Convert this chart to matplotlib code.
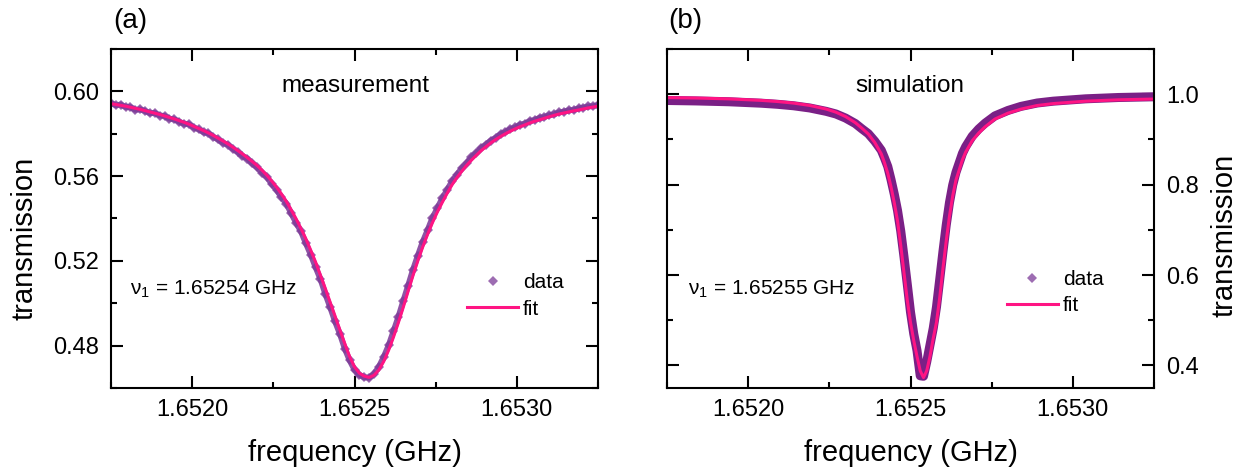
import numpy as np
import matplotlib
matplotlib.use("Agg")
import matplotlib.pyplot as plt
from matplotlib.ticker import MultipleLocator, FormatStrFormatter
from matplotlib.lines import Line2D

# ---------------- data ----------------
F_START, F_STOP = 1.65175, 1.65325

# (a) measurement: uniform sweep, 101 points
A_FIT = [0.5942, 0.5938, 0.5934, 0.5930, 0.5925, 0.5920, 0.5915, 0.5909, 0.5903, 0.5897,
         0.5891, 0.5884, 0.5877, 0.5870, 0.5862, 0.5854, 0.5845, 0.5835, 0.5825, 0.5815,
         0.5804, 0.5792, 0.5779, 0.5766, 0.5752, 0.5737, 0.5721, 0.5705, 0.5687, 0.5669,
         0.5650, 0.5628, 0.5604, 0.5577, 0.5548, 0.5516, 0.5481, 0.5441, 0.5399, 0.5353,
         0.5305, 0.5251, 0.5195, 0.5133, 0.5070, 0.5005, 0.4940, 0.4874, 0.4810, 0.4748,
         0.4700, 0.4670, 0.4656, 0.4650, 0.4660, 0.4685, 0.4725, 0.4778, 0.4840, 0.4908,
         0.4980, 0.5056, 0.5130, 0.5200, 0.5265, 0.5325, 0.5380, 0.5430, 0.5475, 0.5518,
         0.5558, 0.5592, 0.5622, 0.5650, 0.5675, 0.5698, 0.5720, 0.5739, 0.5757, 0.5773,
         0.5787, 0.5800, 0.5812, 0.5823, 0.5833, 0.5842, 0.5851, 0.5859, 0.5866, 0.5873,
         0.5880, 0.5887, 0.5893, 0.5898, 0.5903, 0.5908, 0.5912, 0.5917, 0.5922, 0.5926,
         0.5930]
A_DATA = [0.5945, 0.5934, 0.5938, 0.5926, 0.5926, 0.5913, 0.5915, 0.5907, 0.5897, 0.5898,
          0.5886, 0.5884, 0.5871, 0.5868, 0.5857, 0.5847, 0.5845, 0.5829, 0.5821, 0.5807,
          0.5802, 0.5785, 0.5773, 0.5757, 0.5748, 0.5729, 0.5714, 0.5695, 0.5683, 0.5660,
          0.5641, 0.5616, 0.5596, 0.5563, 0.5535, 0.5500, 0.5470, 0.5424, 0.5380, 0.5339,
          0.5283, 0.5230, 0.5170, 0.5114, 0.5044, 0.4981, 0.4914, 0.4855, 0.4786, 0.4730,
          0.4686, 0.4662, 0.4650, 0.4649, 0.4666, 0.4700, 0.4747, 0.4801, 0.4868, 0.4935,
          0.5010, 0.5083, 0.5158, 0.5225, 0.5290, 0.5345, 0.5403, 0.5448, 0.5495, 0.5534,
          0.5575, 0.5606, 0.5637, 0.5661, 0.5689, 0.5709, 0.5733, 0.5749, 0.5768, 0.5781,
          0.5798, 0.5808, 0.5822, 0.5830, 0.5843, 0.5848, 0.5860, 0.5865, 0.5875, 0.5879,
          0.5888, 0.5892, 0.5901, 0.5904, 0.5911, 0.5912, 0.5920, 0.5923, 0.5929, 0.5930,
          0.5936]

# (b) simulation
B_FREQ = [1.65175, 1.65184, 1.65194, 1.65204, 1.65209, 1.65214, 1.65219, 1.65224, 1.65227, 1.65230,
          1.65233, 1.65235, 1.65237, 1.65239, 1.65241, 1.65242, 1.65243, 1.65244, 1.65245, 1.65246,
          1.65247, 1.65248, 1.65249, 1.65250, 1.65251, 1.65252, 1.65253, 1.65254,
          1.65255, 1.65256, 1.65257, 1.65258, 1.65259, 1.65260, 1.65261, 1.65262, 1.65263, 1.65264,
          1.65266, 1.65267, 1.65269, 1.65271, 1.65273, 1.65276, 1.65280, 1.65284, 1.65289, 1.65294,
          1.65304, 1.65314, 1.65325]
B_FIT = [0.9925, 0.9915, 0.9896, 0.9863, 0.9838, 0.9803, 0.9751, 0.9672, 0.9603, 0.9505,
         0.9370, 0.9250, 0.9120, 0.8930, 0.8680, 0.8480, 0.8250, 0.7950, 0.7600, 0.7200,
         0.6650, 0.6050, 0.5450, 0.4950, 0.4550, 0.4200, 0.3880, 0.3730,
         0.3880, 0.4200, 0.4600, 0.4950, 0.5500, 0.6150, 0.6750, 0.7300, 0.7750, 0.8100,
         0.8550, 0.8720, 0.8970, 0.9140, 0.9280, 0.9450, 0.9580, 0.9670, 0.9750, 0.9793,
         0.9846, 0.9876, 0.9893]
B_DATA = [0.9861, 0.9851, 0.9833, 0.9801, 0.9777, 0.9744, 0.9695, 0.9621, 0.9563, 0.9472,
          0.9351, 0.9236, 0.9127, 0.8960, 0.8760, 0.8588, 0.8400, 0.8110, 0.7790, 0.7430,
          0.6970, 0.6400, 0.5800, 0.5180, 0.4700, 0.4330, 0.3770, 0.3760,
          0.4080, 0.4450, 0.4820, 0.5290, 0.5900, 0.6520, 0.7100, 0.7600, 0.7990, 0.8270,
          0.8690, 0.8840, 0.9070, 0.9230, 0.9360, 0.9520, 0.9640, 0.9730, 0.9805, 0.9846,
          0.9898, 0.9927, 0.9943]

X_TICKS = [1.6520, 1.6525, 1.6530]
A_YTICKS = [0.48, 0.52, 0.56, 0.60]
B_YTICKS = [0.4, 0.6, 0.8, 1.0]

# ---------------- style ----------------
plt.rcParams['font.family'] = ['Liberation Sans', 'DejaVu Sans']
plt.rcParams['mathtext.fontset'] = 'custom'
plt.rcParams['mathtext.rm'] = 'Liberation Sans'
plt.rcParams['mathtext.it'] = 'Liberation Sans:italic'

PURPLE = '#7D3C98'
BAND = '#7A2086'
PINK = '#FF1483'

W, H = 1259, 476
fig = plt.figure(figsize=(W / 100, H / 100), dpi=100)
axA = fig.add_axes([111 / W, 88 / H, 487 / W, 339 / H])
axB = fig.add_axes([667 / W, 88 / H, 487 / W, 339 / H])


def style(ax, ylim, yticks, yminor, yfmt, right):
    ax.set_xlim(F_START, F_STOP)
    ax.set_ylim(*ylim)
    ax.set_xticks(X_TICKS)
    ax.xaxis.set_minor_locator(MultipleLocator(0.00025))
    ax.xaxis.set_major_formatter(FormatStrFormatter('%.4f'))
    ax.set_yticks(yticks)
    ax.yaxis.set_minor_locator(MultipleLocator(yminor))
    ax.yaxis.set_major_formatter(FormatStrFormatter(yfmt))
    ax.tick_params(which='both', direction='in', top=True, right=True,
                   bottom=True, left=True, width=1.5, colors='black')
    ax.tick_params(which='major', length=8.5)
    ax.tick_params(which='minor', length=4.5)
    ax.tick_params(axis='x', labelsize=17, pad=8)
    ax.tick_params(axis='y', labelsize=17, pad=8.5)
    if right:
        ax.tick_params(axis='y', labelleft=False, labelright=True)
    for s in ax.spines.values():
        s.set_linewidth(1.5)
    ax.set_xlabel('frequency (GHz)', fontsize=21)
    ax.xaxis.set_label_coords(0.5, -0.150)
    ax.set_ylabel('transmission', fontsize=21)
    if right:
        ax.yaxis.set_label_position('right')
        ax.yaxis.set_label_coords(1.116, 0.451)
    else:
        ax.yaxis.set_label_coords(-0.148, 0.442)


# ---- (a) ----
fa = np.linspace(F_START, F_STOP, len(A_DATA))
axA.plot(fa, A_DATA, ls='-', lw=4.2, color='#7A3596', alpha=0.85,
         solid_joinstyle='round')
axA.plot(fa, A_DATA, ls='none', marker='D', ms=5, mew=0, color=PURPLE, alpha=0.8)
axA.plot(fa, A_FIT, color=PINK, lw=2.2)
style(axA, (0.46, 0.62), A_YTICKS, 0.02, '%.2f', False)
axA.text(0.501, 0.873, 'measurement', transform=axA.transAxes, ha='center',
         va='baseline', fontsize=17.5)
axA.text(0.039, 0.274, r'$\mathregular{\nu_1}$ = 1.65254 GHz', transform=axA.transAxes,
         ha='left', va='baseline', fontsize=15)

# ---- (b) ----
axB.plot(B_FREQ, B_DATA, color=BAND, lw=6.5, solid_joinstyle='round', solid_capstyle='butt')
axB.plot(B_FREQ, B_FIT, color=PINK, lw=2.2, solid_joinstyle='round')
style(axB, (0.35, 1.1), B_YTICKS, 0.1, '%.1f', True)
axB.text(0.499, 0.873, 'simulation', transform=axB.transAxes, ha='center',
         va='baseline', fontsize=17.5)
axB.text(0.043, 0.274, r'$\mathregular{\nu_1}$ = 1.65255 GHz', transform=axB.transAxes,
         ha='left', va='baseline', fontsize=15)

for ax, anchor in ((axA, (0.731, 0.338)), (axB, (0.698, 0.348))):
    h_data = Line2D([], [], ls='none', marker='D', ms=5.5, mew=0, color=PURPLE,
                    alpha=0.75, label='data')
    h_fit = Line2D([], [], color=PINK, lw=2.2, label='fit')
    ax.legend(handles=[h_data, h_fit], loc='upper left', bbox_to_anchor=anchor,
              frameon=False, fontsize=15, handlelength=2.45, handletextpad=0.25,
              borderpad=0, borderaxespad=0, labelspacing=0.35)

fig.text(113 / W, 1 - 28 / H, '(a)', fontsize=20, ha='left', va='baseline')
fig.text(668 / W, 1 - 28 / H, '(b)', fontsize=20, ha='left', va='baseline')

fig.savefig('out.png', dpi=100)
